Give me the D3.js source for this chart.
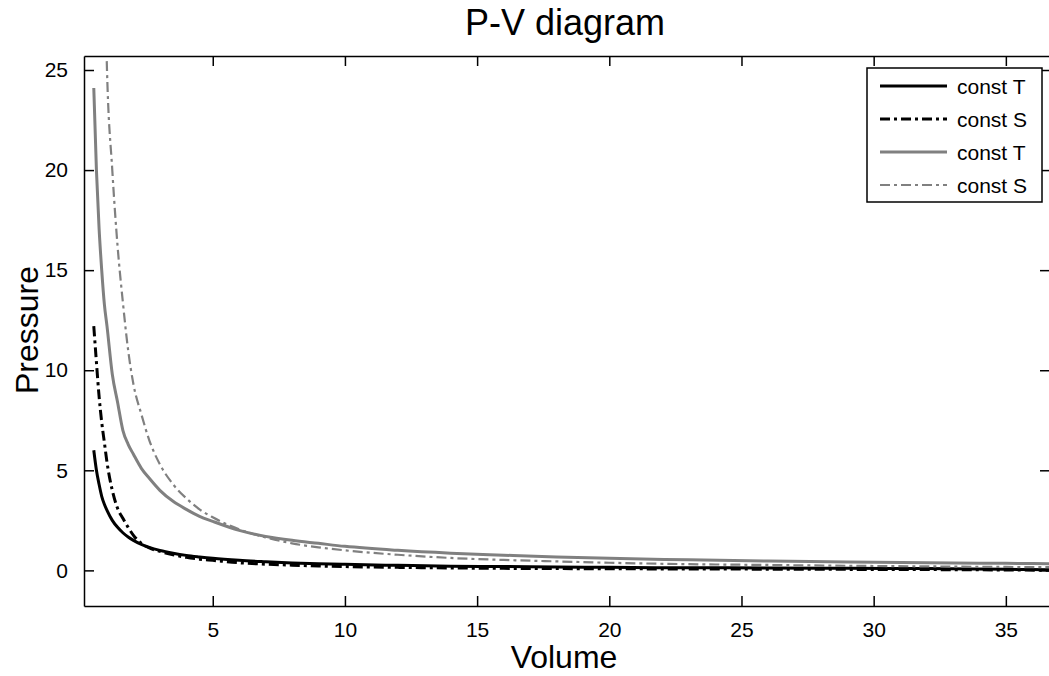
<!DOCTYPE html>
<html>
<head>
<meta charset="utf-8">
<script src="https://cdn.jsdelivr.net/npm/d3@7"></script>
<style>
    body { margin: 0; background: #fff; }
    text { font-family: "Liberation Sans", Arial, sans-serif; fill: #000; }
</style>
</head>
<body>
<svg id="chart"></svg>
<script>
// volume samples (shared by three series)
var volume = [0.5, 0.6, 0.7, 0.8, 0.9, 1.0, 1.2, 1.4, 1.6, 1.8, 2.0, 2.3, 2.6, 3.0, 3.5, 4, 4.5, 5, 6, 7, 8, 9, 10, 12, 14, 16, 18, 20, 23, 26, 29, 32, 35, 37];

// black, constant temperature
var blackT = [6.0, 5.0, 4.3, 3.7, 3.3, 3.0, 2.5, 2.15, 1.88, 1.67, 1.5, 1.3, 1.15, 1.0, 0.86, 0.75, 0.67, 0.6, 0.5, 0.43, 0.37, 0.33, 0.3, 0.25, 0.21, 0.19, 0.17, 0.15, 0.13, 0.12, 0.1, 0.09, 0.05, 0.03];
// black, constant entropy
var blackS = [12.2, 10.4, 8.7, 7.4, 6.4, 5.4, 4.0, 3.1, 2.6, 2.15, 1.75, 1.35, 1.12, 0.95, 0.78, 0.65, 0.56, 0.5, 0.38, 0.31, 0.26, 0.22, 0.19, 0.15, 0.12, 0.1, 0.09, 0.08, 0.07, 0.06, 0.05, 0.04, 0.02, 0.0];
// gray, constant temperature
var grayT = [24.1, 20.0, 17.1, 15.0, 13.3, 12.2, 9.8, 8.4, 7.0, 6.3, 5.8, 5.1, 4.6, 4.0, 3.45, 3.05, 2.7, 2.45, 2.0, 1.7, 1.5, 1.35, 1.2, 1.0, 0.86, 0.76, 0.67, 0.6, 0.53, 0.47, 0.42, 0.38, 0.35, 0.33];

// gray, constant entropy (enters the plot from above)
var volumeGrayS = [0.97, 1.0, 1.2, 1.4, 1.6, 1.8, 2.0, 2.3, 2.6, 3.0, 3.5, 4, 4.5, 5, 6, 7, 8, 9, 10, 12, 14, 16, 18, 20, 23, 26, 29, 32, 35, 37];
var grayS = [26.5, 25.0, 20.0, 16.2, 13.4, 11.0, 9.3, 7.8, 6.5, 5.3, 4.3, 3.6, 3.05, 2.65, 2.05, 1.65, 1.35, 1.15, 1.0, 0.78, 0.62, 0.52, 0.45, 0.38, 0.31, 0.27, 0.23, 0.2, 0.17, 0.16];

var xTicks = [5, 10, 15, 20, 25, 30, 35];
var yTicks = [0, 5, 10, 15, 20, 25];
var legendLabels = ["const T", "const S", "const T", "const S"];

(function() {

    var width = 1049,
        height = 676;

    var margin = { top: 56, right: 0, bottom: 70, left: 84 };
    var plotW = 1050 - margin.left,
        plotH = 606 - margin.top;

    var svg = d3.select("#chart")
        .attr("width", width)
        .attr("height", height);

    var x = d3.scaleLinear()
        .domain([0.13, 36.67])
        .range([0, plotW]);

    var y = d3.scaleLinear()
        .domain([-1.78, 25.7])
        .range([plotH, 0]);

    var g = svg.append("g")
        .attr("transform", "translate(" + margin.left + "," + margin.top + ")");

    g.append("clipPath")
        .attr("id", "clip")
        .append("rect")
        .attr("width", plotW)
        .attr("height", plotH);

    // series styling
    var series = [
        { vol: volume, p: blackT, color: "#000", dash: null, w: 3 },
        { vol: volume, p: blackS, color: "#000", dash: "10,4,3,4", w: 3 },
        { vol: volume, p: grayT, color: "#808080", dash: null, w: 3 },
        { vol: volumeGrayS, p: grayS, color: "#808080", dash: "10,4,3,4", w: 2.2 }
    ];

    var line = d3.line()
        .x(function(d) { return x(d[0]); })
        .y(function(d) { return y(d[1]); })
        .curve(d3.curveMonotoneX);

    g.append("g")
        .attr("clip-path", "url(#clip)")
        .selectAll("path")
        .data(series)
        .enter()
        .append("path")
        .attr("d", function(s) { return line(s.vol.map(function(v, i) { return [v, s.p[i]]; })); })
        .attr("fill", "none")
        .attr("stroke", function(s) { return s.color; })
        .attr("stroke-width", function(s) { return s.w; })
        .attr("stroke-dasharray", function(s) { return s.dash; });

    // axes, ticks pointing inward on all four sides
    var tickFont = "21px";
    g.append("g")
        .attr("transform", "translate(0," + plotH + ")")
        .call(d3.axisBottom(x).tickValues(xTicks).tickSizeInner(-10).tickSizeOuter(0).tickPadding(16))
        .call(function(a) { a.selectAll("text").style("font-size", tickFont).style("font-family", "Liberation Sans, Arial"); });

    g.append("g")
        .call(d3.axisTop(x).tickValues(xTicks).tickSizeInner(-10).tickSizeOuter(0).tickFormat(""));

    g.append("g")
        .call(d3.axisLeft(y).tickValues(yTicks).tickSizeInner(-10).tickSizeOuter(0).tickPadding(16))
        .call(function(a) { a.selectAll("text").style("font-size", tickFont).style("font-family", "Liberation Sans, Arial"); });

    g.append("g")
        .attr("transform", "translate(" + plotW + ",0)")
        .call(d3.axisRight(y).tickValues(yTicks).tickSizeInner(-10).tickSizeOuter(0).tickFormat(""));

    g.selectAll(".domain, .tick line")
        .attr("stroke", "#000")
        .attr("stroke-width", 1.5);

    // title + axis labels
    svg.append("text")
        .attr("x", 565)
        .attr("y", 35)
        .attr("text-anchor", "middle")
        .style("font-size", "36px")
        .text("P-V diagram");

    svg.append("text")
        .attr("x", 564)
        .attr("y", 668)
        .attr("text-anchor", "middle")
        .style("font-size", "32px")
        .text("Volume");

    svg.append("text")
        .attr("transform", "translate(38,330) rotate(-90)")
        .attr("text-anchor", "middle")
        .style("font-size", "32px")
        .text("Pressure");

    // legend
    var legend = svg.append("g").attr("transform", "translate(867,68)");
    legend.append("rect")
        .attr("width", 175)
        .attr("height", 134)
        .attr("fill", "#fff")
        .attr("stroke", "#000")
        .attr("stroke-width", 1.5);

    var rows = legend.selectAll(".row")
        .data(series)
        .enter()
        .append("g")
        .attr("transform", function(d, i) { return "translate(0," + (18 + i * 33) + ")"; });

    rows.append("line")
        .attr("x1", 13)
        .attr("x2", 80)
        .attr("stroke", function(s) { return s.color; })
        .attr("stroke-width", function(s) { return s.w; })
        .attr("stroke-dasharray", function(s) { return s.dash; });

    rows.append("text")
        .attr("x", 90)
        .attr("y", 8)
        .style("font-size", "21px")
        .text(function(d, i) { return legendLabels[i]; });

})();
</script>
</body>
</html>
